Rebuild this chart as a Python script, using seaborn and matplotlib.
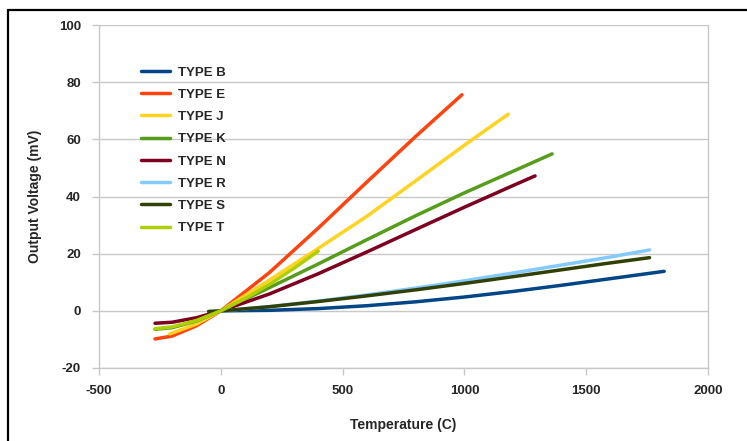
import numpy as np
import pandas as pd
import matplotlib
matplotlib.use("Agg")
import matplotlib.pyplot as plt
import seaborn as sns
from matplotlib.lines import Line2D

# Temperature (C) and output voltage (mV) per thermocouple type
type_b_t = [0, 200, 400, 600, 800, 1000, 1200, 1400, 1600, 1820]
type_b_v = [0.0, 0.178, 0.787, 1.792, 3.154, 4.834, 6.786, 8.956, 11.263, 13.820]
type_e_t = [-270, -200, -100, 0, 200, 400, 600, 800, 990]
type_e_v = [-9.835, -8.825, -5.237, 0.0, 13.421, 28.946, 45.093, 61.017, 75.6]
type_j_t = [-210, -100, 0, 200, 400, 600, 800, 1000, 1180]
type_j_v = [-8.095, -4.633, 0.0, 10.777, 21.848, 33.102, 45.494, 57.953, 68.8]
type_k_t = [-270, -200, -100, 0, 200, 400, 600, 800, 1000, 1200, 1360]
type_k_v = [-6.458, -5.891, -3.554, 0.0, 8.138, 16.397, 24.905, 33.275, 41.276, 48.838, 54.9]
type_n_t = [-270, -200, -100, 0, 200, 400, 600, 800, 1000, 1200, 1290]
type_n_v = [-4.345, -3.990, -2.407, 0.0, 5.913, 12.974, 20.613, 28.455, 36.256, 43.846, 47.2]
type_r_t = [-50, 0, 200, 400, 600, 800, 1000, 1200, 1400, 1600, 1760]
type_r_v = [-0.226, 0.0, 1.469, 3.408, 5.583, 7.950, 10.506, 13.228, 16.040, 18.849, 21.3]
type_s_t = [-50, 0, 200, 400, 600, 800, 1000, 1200, 1400, 1600, 1760]
type_s_v = [-0.236, 0.0, 1.441, 3.259, 5.239, 7.345, 9.587, 11.951, 14.373, 16.777, 18.6]
type_t_t = [-270, -200, -100, 0, 100, 200, 300, 400]
type_t_v = [-6.258, -5.603, -3.379, 0.0, 4.279, 9.288, 14.862, 20.872]

series_names = ["TYPE B", "TYPE E", "TYPE J", "TYPE K", "TYPE N", "TYPE R", "TYPE S", "TYPE T"]
series_t = [type_b_t, type_e_t, type_j_t, type_k_t, type_n_t, type_r_t, type_s_t, type_t_t]
series_v = [type_b_v, type_e_v, type_j_v, type_k_v, type_n_v, type_r_v, type_s_v, type_t_v]
colors = ["#004586", "#ff420e", "#ffd320", "#579d1c", "#7e0021", "#83caff", "#314004", "#aecf00"]

x_ticks = [-500, 0, 500, 1000, 1500, 2000]
y_ticks = [-20, 0, 20, 40, 60, 80, 100]

rows = []
for name, ts, vs in zip(series_names, series_t, series_v):
    for t, v in zip(ts, vs):
        rows.append({"Temperature": t, "Voltage": v, "Type": name})
df = pd.DataFrame(rows)

sns.set_style("white")
plt.rcParams["font.family"] = ["Liberation Sans", "DejaVu Sans"]

fig = plt.figure(figsize=(7.47, 4.41), dpi=100)
ax = fig.add_axes([99 / 747, 1 - 368 / 441, (708 - 99) / 747, (368 - 25) / 441])

sns.lineplot(data=df, x="Temperature", y="Voltage", hue="Type", hue_order=series_names,
             palette=colors, linewidth=2.5, ax=ax, sort=False, estimator=None, legend=False)

ax.set_xlim(-500, 2000)
ax.set_ylim(-20, 100)
ax.set_xticks(x_ticks)
ax.set_yticks(y_ticks)
ax.set_xticklabels([str(v) for v in x_ticks], fontsize=9.5, fontweight="bold")
ax.set_yticklabels([str(v) for v in y_ticks], fontsize=9.5, fontweight="bold")
ax.yaxis.grid(True, color="#c8c8c8", linewidth=1)
ax.xaxis.grid(False)
for s in ["left", "right", "bottom"]:
    ax.spines[s].set_visible(True)
    ax.spines[s].set_color("#c8c8c8")
    ax.spines[s].set_linewidth(1)
ax.spines["top"].set_visible(False)
ax.tick_params(axis="both", which="both", length=5, color="#c8c8c8", width=1, direction="out")
ax.tick_params(axis="x", bottom=True, pad=7)
ax.tick_params(axis="y", left=True, pad=8)

ax.set_xlabel("Temperature (C)", fontsize=10, fontweight="bold", labelpad=15)
ax.set_ylabel("Output Voltage (mV)", fontsize=10, fontweight="bold", labelpad=12)

handles = [Line2D([0], [0], color=c, linewidth=2.5) for c in colors]
leg = ax.legend(handles, series_names, loc="upper left", bbox_to_anchor=(0.06, 0.895),
                frameon=False, fontsize=9.5, handlelength=2.2, handletextpad=0.6,
                labelspacing=0.76, borderaxespad=0)
for t in leg.get_texts():
    t.set_fontweight("bold")

# outer frame lines (left and top)
fig.add_artist(Line2D([8 / 747, 8 / 747], [0, 1 - 10 / 441], color="black", linewidth=1.6,
                      transform=fig.transFigure))
fig.add_artist(Line2D([8 / 747, 1], [1 - 10 / 441, 1 - 10 / 441], color="black", linewidth=1.6,
                      transform=fig.transFigure))

fig.savefig("out.png", dpi=100)
